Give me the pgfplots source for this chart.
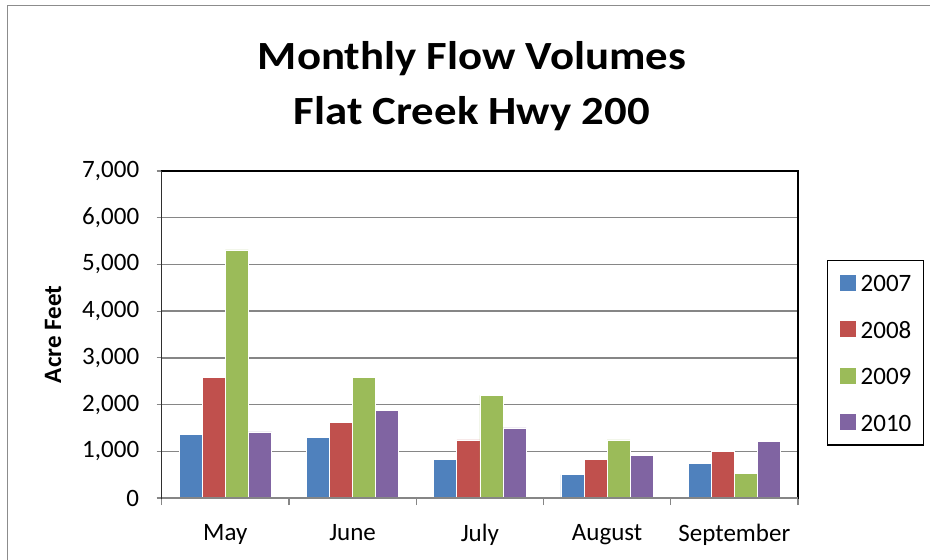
\documentclass[border=0pt]{standalone}
\usepackage{pgfplots}
\pgfplotsset{compat=1.18}
\usepackage{fontspec}
\setmainfont{Carlito}
\newfontfamily\titlefont[FakeStretch=1.12]{Carlito}
\definecolor{c07}{HTML}{4F81BD}
\definecolor{c08}{HTML}{C0504D}
\definecolor{c09}{HTML}{9BBB59}
\definecolor{c10}{HTML}{8064A2}
\definecolor{gridgray}{RGB}{134,134,134}
\definecolor{bordergray}{RGB}{140,140,140}
\begin{document}
\begin{tikzpicture}
\useasboundingbox (0pt,0pt) rectangle (930pt,560pt);
\draw[bordergray, line width=1.5pt] (7.5pt,-10pt) -- (7.5pt,554.5pt) -- (940pt,554.5pt);
\node[font=\titlefont\fontsize{40}{55}\selectfont\bfseries, align=center] at (472pt,474pt) {Monthly Flow Volumes\\Flat Creek Hwy 200};
\begin{axis}[
  at={(161.7pt,62pt)}, anchor=south west,
  scale only axis, width=636.3pt, height=327pt,
  ybar=0pt, bar width=23.1pt,
  xmin=-0.5, xmax=4.5, ymin=0, ymax=7000,
  xtick={0,1,2,3,4},
  xticklabels={May,June,July,August,September},
  minor xtick={-0.5,0.5,1.5,2.5,3.5,4.5},
  major x tick style={draw=none},
  minor tick length=7pt,
  xtick pos=bottom, ytick pos=left,
  ytick={0,1000,2000,3000,4000,5000,6000,7000},
  major tick length=5pt,
  tick align=outside,
  tick style={gridgray, line width=1.2pt},
  ymajorgrids, grid style={gridgray, line width=1.3pt},
  axis line style={black, line width=1.3pt},
  /pgf/number format/1000 sep={,},
  /pgf/number format/assume math mode=true,
  ticklabel style={font=\fontsize{25}{30}\selectfont},
  xticklabel style={yshift=-18pt},
  yticklabel style={xshift=-14pt},
  ylabel={\bfseries Acre Feet},
  ylabel style={font=\fontsize{25}{30}\selectfont, yshift=14pt},
  legend style={at={(1.0456,0.728)}, anchor=north west, draw=black, line width=1.3pt,
    font=\fontsize{25}{30}\selectfont, inner xsep=12pt, inner ysep=14pt, row sep=29.5pt,
    nodes={inner sep=0pt, text height=16pt, text depth=0pt},
    /tikz/every odd column/.append style={column sep=5pt}},
  legend cell align=left,
  legend image code/.code={\fill[#1, draw=none] (0pt,-7pt) rectangle (16pt,9pt);},
]
\addplot[fill=c07, draw=white, line width=0.6pt] coordinates {(0,1370) (1,1291) (2,829) (3,499) (4,743)};
\addplot[fill=c08, draw=white, line width=0.6pt] coordinates {(0,2576) (1,1621) (2,1242) (3,829) (4,1000)};
\addplot[fill=c09, draw=white, line width=0.6pt] coordinates {(0,5310) (1,2576) (2,2199) (3,1242) (4,535)};
\addplot[fill=c10, draw=white, line width=0.6pt] coordinates {(0,1413) (1,1878) (2,1499) (3,914) (4,1206)};
\legend{2007,2008,2009,2010}
\draw[gridgray, line width=1.5pt] (rel axis cs:0,1) -- (rel axis cs:0,0) -- (rel axis cs:1,0);
\end{axis}
\end{tikzpicture}
\end{document}
